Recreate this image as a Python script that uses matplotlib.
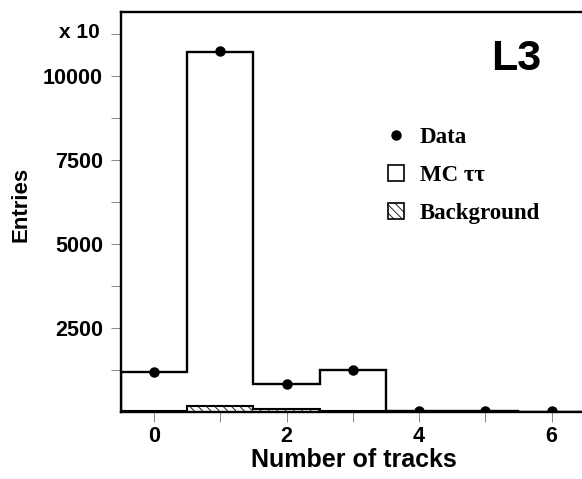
import matplotlib
matplotlib.use("Agg")
import matplotlib.pyplot as plt
import numpy as np
from matplotlib.lines import Line2D
from matplotlib.patches import Patch

plt.rcParams['hatch.linewidth'] = 0.6

bins = [0, 1, 2, 3, 4, 5, 6]
mc_tautau = [1190, 10700, 830, 1260, 25, 15, 10]
background = [20, 190, 90, 20, 5, 3, 2]
data = [1190, 10730, 830, 1250, 30, 20, 15]

fig = plt.figure(figsize=(5.82, 4.79), dpi=100)
ax = fig.add_axes([121/582, 67/479, 465/582, 400/479])

edges = np.arange(-0.5, 7.5, 1.0)
ax.stairs(mc_tautau, edges, color='black', linewidth=1.7, baseline=0)
ax.stairs(background, edges, fill=True, facecolor='white', edgecolor='black',
          hatch='\\\\\\\\', linewidth=1.2, baseline=0)
ax.stairs(background, edges, color='black', linewidth=1.5, baseline=0)
ax.plot(bins, data, 'o', color='black', markersize=6.5, zorder=5)

ax.set_xlim(-0.5, 6.52)
ax.set_ylim(0, 11900)

ax.set_xticks([0, 2, 4, 6])
ax.set_xticks([1, 3, 5], minor=True)
ax.set_yticks([2500, 5000, 7500, 10000])
ax.set_yticks([1250, 3750, 6250, 8750, 11250], minor=True)

for lab in ax.get_xticklabels() + ax.get_yticklabels():
    lab.set_fontfamily('Liberation Sans')
    lab.set_fontweight('bold')
    lab.set_fontsize(15.5)

ax.tick_params(axis='x', which='both', direction='out', length=7, width=0.7,
               color='#888888', pad=3)
ax.tick_params(axis='y', which='both', direction='out', length=7, width=0.7,
               color='#888888', pad=6)

for s in ['left', 'top', 'bottom']:
    ax.spines[s].set_linewidth(1.7)
ax.spines['right'].set_visible(False)

ax.set_xlabel('Number of tracks', fontfamily='Liberation Sans', fontweight='bold',
              fontsize=18, labelpad=1)
ax.set_ylabel('Entries', fontfamily='Liberation Sans', fontweight='bold',
              fontsize=16)
ax.yaxis.set_label_coords(-0.192, 0.52)

fig.text(100/582, 1 - 33/479, 'x 10', ha='right', va='center',
         fontfamily='Liberation Sans', fontweight='bold', fontsize=15)

fig.text(516/582, 1 - 59/479, 'L3', ha='center', va='center',
         fontfamily='Liberation Sans', fontweight='bold', fontsize=31)

handles = [
    Line2D([0], [0], marker='o', color='black', linestyle='none', markersize=6.5),
    Patch(facecolor='white', edgecolor='black', linewidth=1.2),
    Patch(facecolor='white', edgecolor='black', hatch='\\\\\\\\', linewidth=1.2),
]
labels = ['Data', 'MC ττ', 'Background']
leg = ax.legend(handles, labels, loc='upper left', bbox_to_anchor=(0.574, 0.712),
                frameon=False, borderpad=0, borderaxespad=0,
                prop={'family': 'Liberation Serif', 'weight': 'bold', 'size': 16.5},
                handlelength=0.7, handleheight=0.7, labelspacing=0.74, handletextpad=0.7)

fig.savefig('out.png', dpi=100)
